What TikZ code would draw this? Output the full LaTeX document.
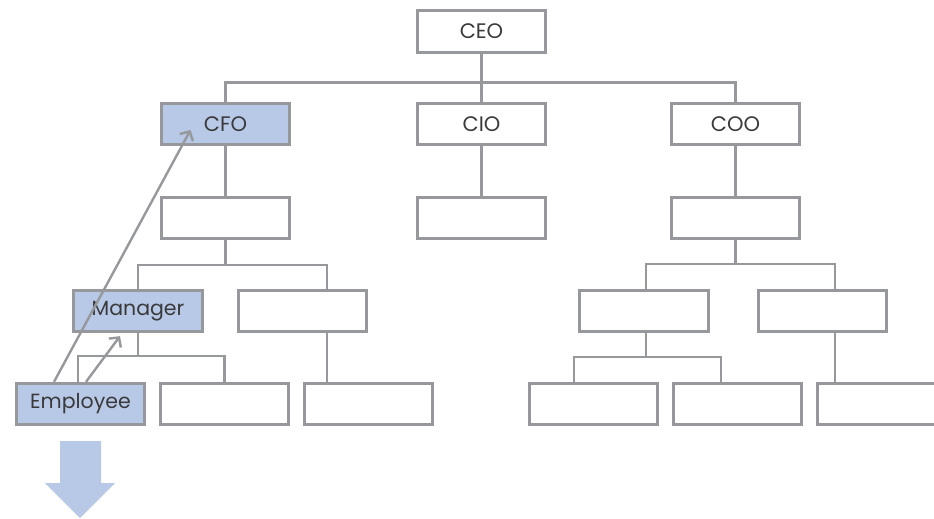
\documentclass[tikz,border=0pt]{standalone}
\usepackage{fontspec}
\setmainfont{Poppins}
\usepackage{tikz}
\usetikzlibrary{arrows.meta}

\definecolor{linegray}{HTML}{97989B}
\definecolor{boxblue}{HTML}{B7C9E6}
\definecolor{textgray}{HTML}{3A3A3C}

\begin{document}
\begin{tikzpicture}[x=1pt, y=-1pt,
  orgbox/.style={draw=linegray, line width=2.8pt, fill=white,
    minimum width=128.5pt, minimum height=41.5pt, inner sep=0pt,
    text=textgray, font=\fontsize{21}{24}\selectfont},
  hilite/.style={orgbox, fill=boxblue},
  wire/.style={draw=linegray, line width=2.6pt},
  upline/.style={draw=linegray, line width=2.4pt,
    -{Straight Barb[length=7pt, width=15pt, line width=2.4pt]}}]

\useasboundingbox (0,0) rectangle (934,519);

% top level
\path
(481.5,31.5) node [orgbox] (ceo) {CEO}
(225.5,124) node [hilite] (cfo) {CFO}
(481.5,124) node [orgbox] (cio) {CIO}
(735.5,124) node [orgbox] (coo) {COO};

% second level, empty boxes
\path
(225.5,218) node [orgbox] (cfoa) {}
(481.5,218) node [orgbox] (cioa) {}
(735.5,218) node [orgbox] (cooa) {};

% third level
\path
(138,311) node [hilite, font=\fontsize{20.5}{24}\selectfont] (mgr) {Manager}
(302.5,311) node [orgbox] (cfob) {}
(644,311) node [orgbox] (coob) {}
(822.5,311) node [orgbox] (cooc) {};

% bottom level
\path
(80.5,404) node [hilite, font=\fontsize{20.5}{24}\selectfont] (emp) {Employee}
(224.5,404) node [orgbox] (mgra) {}
(368.5,404) node [orgbox] (cfoc) {}
(593.5,404) node [orgbox] (cood) {}
(737.5,404) node [orgbox] (cooe) {}
(881.5,404) node [orgbox] (coof) {};

%% connectors
\draw[wire] (ceo.south) -- ++(0,29) -| (cfo.north);
\draw[wire] (ceo.south) -- (cio.north);
\draw[wire] (ceo.south) -- ++(0,29) -| (coo.north);
\foreach \a/\b in {cfo/cfoa, cio/cioa, coo/cooa}
  \draw[wire] (\a.south) -- (\b.north);

% CFO branch
\draw[wire] (cfoa.south) -- ++(0,25) -| (mgr.north);
\draw[wire] (cfoa.south) -- ++(0,25) -| ([xshift=24.5]cfob.north);
\draw[wire] ([xshift=24.5]cfob.south) -- ([xshift=24.5]cfob.south |- cfoc.north);
\draw[wire] (mgr.south) -- ++(0,23) -| ([xshift=-2.5]emp.north);
\draw[wire] (mgr.south) -- ++(0,23) -| (mgra.north);

% COO branch
\draw[wire] (cooa.south) -- ++(0,24) -| ([xshift=2]coob.north);
\draw[wire] (cooa.south) -- ++(0,24) -| ([xshift=12.5]cooc.north);
\draw[wire] ([xshift=2]coob.south) -- ++(0,24) -| ([xshift=-19.5]cood.north);
\draw[wire] ([xshift=2]coob.south) -- ++(0,24) -| ([xshift=-16.5]cooe.north);
\draw[wire] ([xshift=12.5]cooc.south) -- ([xshift=12.5]cooc.south |- coof.north);

%% reporting arrows
\draw[upline] ([xshift=-26.5]emp.north) -- ([shift={(-35,6)}]cfo.center);
\draw[upline] ([xshift=5.5]emp.north) -- ([shift={(-18,3)}]mgr.south);

% big down arrow
\fill[boxblue] (60,441) -- (101,441) -- (101,483) -- (115,483)
  -- (80,518) -- (45,483) -- (60,483) -- cycle;

\end{tikzpicture}
\end{document}
